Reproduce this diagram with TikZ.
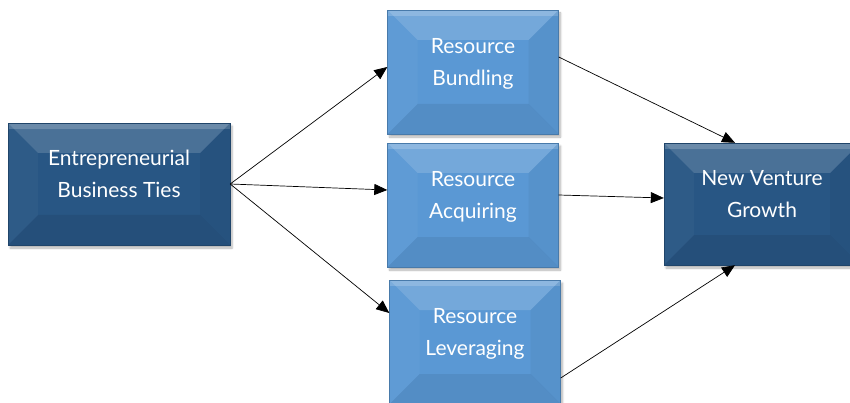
\documentclass[tikz,border=0pt]{standalone}
\usepackage{fontspec}
\setmainfont{Lato}
\usetikzlibrary{arrows.meta,shadows.blur}

\definecolor{darkbox}{RGB}{40,86,132}
\definecolor{lightbox}{RGB}{90,152,212}

\tikzset{
  bevelbox/.style={fill=#1, draw=#1!80!black, line width=0.4pt, text=white,
    font=\fontsize{21}{32}\selectfont, align=center, inner sep=0pt, text depth=20pt,
    blur shadow={shadow xshift=2pt, shadow yshift=-3pt, shadow blur steps=6, shadow opacity=30},
    path picture={
      \path (path picture bounding box.north west) coordinate (bnw)
            (path picture bounding box.north east) coordinate (bne)
            (path picture bounding box.south west) coordinate (bsw)
            (path picture bounding box.south east) coordinate (bse);
      % top, left, right, bottom bevels
      \fill[white, opacity=0.16] (bnw) -- (bne) -- ([shift={(-30pt,-30pt)}]bne) -- ([shift={(30pt,-30pt)}]bnw) -- cycle;
      \fill[white, opacity=0.18] (bnw) rectangle ([yshift=-6pt]bne);
      \fill[white, opacity=0.03] (bnw) -- ([shift={(30pt,-30pt)}]bnw) -- ([shift={(30pt,30pt)}]bsw) -- (bsw) -- cycle;
      \fill[black, opacity=0.04] (bne) -- ([shift={(-30pt,-30pt)}]bne) -- ([shift={(-30pt,30pt)}]bse) -- (bse) -- cycle;
      \fill[black, opacity=0.07] (bsw) -- ([shift={(30pt,30pt)}]bsw) -- ([shift={(-30pt,30pt)}]bse) -- (bse) -- cycle;
    }},
  tie/.style={-{Triangle[length=13pt,width=11pt]}, line width=0.7pt}
}

\begin{document}
\begin{tikzpicture}[x=1pt,y=-1pt]
  \useasboundingbox (0,0) rectangle (850,403);
  % boxes
  \node[bevelbox=darkbox, minimum width=222pt, minimum height=122pt] (ties) at (119,184) {Entrepreneurial\\Business Ties};
  \node[bevelbox=lightbox, minimum width=171pt, minimum height=124pt] (bund) at (473,72) {Resource\\Bundling};
  \node[bevelbox=lightbox, minimum width=171pt, minimum height=124pt] (acq) at (473,205) {Resource\\Acquiring};
  \node[bevelbox=lightbox, minimum width=171pt, minimum height=124pt] (lev) at (475,342) {Resource\\Leveraging};
  \node[bevelbox=darkbox, minimum width=196pt, minimum height=122pt] (growth) at (762,204) {New Venture\\Growth};
  % ties to resources
  \draw[tie] (ties.east) -- ([yshift=5pt]bund.west);
  \draw[tie] (ties.east) -- ([yshift=15pt]acq.west);
  \draw[tie] (ties.east) -- ([yshift=29pt]lev.west);
  % resources to growth
  \draw[tie] ([yshift=15pt]bund.east) -- ([xshift=-27pt]growth.north);
  \draw[tie] ([yshift=10pt]acq.east) -- ([yshift=6pt]growth.west);
  \draw[tie] ([yshift=-36pt]lev.east) -- ([xshift=-27pt]growth.south);
\end{tikzpicture}
\end{document}
